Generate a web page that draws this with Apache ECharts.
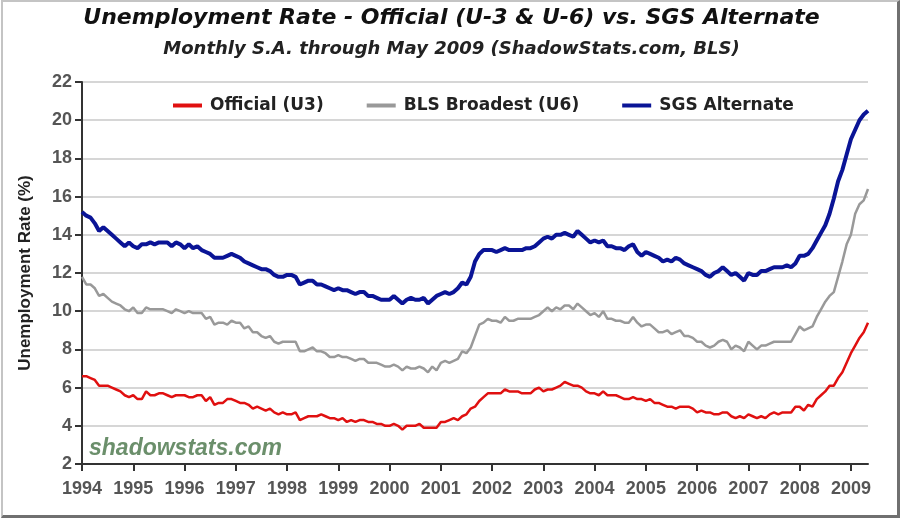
<!DOCTYPE html>
<html>
<head>
<meta charset="utf-8">
<script src="https://cdn.jsdelivr.net/npm/echarts@6/dist/echarts.min.js"></script>
<style>
  html, body { margin: 0; padding: 0; background: #ffffff; }
  #chart { position: absolute; left: 0; top: 0; width: 903px; height: 521px; }
  #frame {
    position: absolute; left: 1px; top: 0px; width: 894px; height: 513px;
    border-left: 2px solid #c4c4c4; border-top: 2px solid #c4c4c4;
    border-right: 3px solid #707070; border-bottom: 3px solid #707070;
    pointer-events: none;
  }
</style>
</head>
<body>
<div id="chart"></div>
<div id="frame"></div>
<script>
// Monthly, seasonally adjusted, Jan 1994 .. May 2009 (185 months)
const startYear = 1994;
const years = [1994, 1995, 1996, 1997, 1998, 1999, 2000, 2001, 2002, 2003, 2004, 2005, 2006, 2007, 2008, 2009];

const officialU3 = [
  6.6, 6.6, 6.5, 6.4, 6.1, 6.1, 6.1, 6.0, 5.9, 5.8, 5.6, 5.5,
  5.6, 5.4, 5.4, 5.8, 5.6, 5.6, 5.7, 5.7, 5.6, 5.5, 5.6, 5.6,
  5.6, 5.5, 5.5, 5.6, 5.6, 5.3, 5.5, 5.1, 5.2, 5.2, 5.4, 5.4,
  5.3, 5.2, 5.2, 5.1, 4.9, 5.0, 4.9, 4.8, 4.9, 4.7, 4.6, 4.7,
  4.6, 4.6, 4.7, 4.3, 4.4, 4.5, 4.5, 4.5, 4.6, 4.5, 4.4, 4.4,
  4.3, 4.4, 4.2, 4.3, 4.2, 4.3, 4.3, 4.2, 4.2, 4.1, 4.1, 4.0,
  4.0, 4.1, 4.0, 3.8, 4.0, 4.0, 4.0, 4.1, 3.9, 3.9, 3.9, 3.9,
  4.2, 4.2, 4.3, 4.4, 4.3, 4.5, 4.6, 4.9, 5.0, 5.3, 5.5, 5.7,
  5.7, 5.7, 5.7, 5.9, 5.8, 5.8, 5.8, 5.7, 5.7, 5.7, 5.9, 6.0,
  5.8, 5.9, 5.9, 6.0, 6.1, 6.3, 6.2, 6.1, 6.1, 6.0, 5.8, 5.7,
  5.7, 5.6, 5.8, 5.6, 5.6, 5.6, 5.5, 5.4, 5.4, 5.5, 5.4, 5.4,
  5.3, 5.4, 5.2, 5.2, 5.1, 5.0, 5.0, 4.9, 5.0, 5.0, 5.0, 4.9,
  4.7, 4.8, 4.7, 4.7, 4.6, 4.6, 4.7, 4.7, 4.5, 4.4, 4.5, 4.4,
  4.6, 4.5, 4.4, 4.5, 4.4, 4.6, 4.7, 4.6, 4.7, 4.7, 4.7, 5.0,
  5.0, 4.8, 5.1, 5.0, 5.4, 5.6, 5.8, 6.1, 6.1, 6.5, 6.8, 7.3,
  7.8, 8.2, 8.6, 8.9, 9.4,
];

const broadestU6 = [
  11.8, 11.4, 11.4, 11.2, 10.8, 10.9, 10.7, 10.5, 10.4, 10.3, 10.1, 10.0,
  10.2, 9.9, 9.9, 10.2, 10.1, 10.1, 10.1, 10.1, 10.0, 9.9, 10.1, 10.0,
  9.9, 10.0, 9.9, 9.9, 9.9, 9.6, 9.7, 9.3, 9.4, 9.4, 9.3, 9.5,
  9.4, 9.4, 9.1, 9.2, 8.9, 8.9, 8.7, 8.6, 8.7, 8.4, 8.3, 8.4,
  8.4, 8.4, 8.4, 7.9, 7.9, 8.0, 8.1, 7.9, 7.9, 7.8, 7.6, 7.6,
  7.7, 7.6, 7.6, 7.5, 7.4, 7.5, 7.5, 7.3, 7.3, 7.3, 7.2, 7.1,
  7.1, 7.2, 7.1, 6.9, 7.1, 7.0, 7.0, 7.1, 7.0, 6.8, 7.1, 6.9,
  7.3, 7.4, 7.3, 7.4, 7.5, 7.9, 7.8, 8.1, 8.7, 9.3, 9.4, 9.6,
  9.5, 9.5, 9.4, 9.7, 9.5, 9.5, 9.6, 9.6, 9.6, 9.6, 9.7, 9.8,
  10.0, 10.2, 10.0, 10.2, 10.1, 10.3, 10.3, 10.1, 10.4, 10.2, 10.0, 9.8,
  9.9, 9.7, 10.0, 9.6, 9.6, 9.5, 9.5, 9.4, 9.4, 9.7, 9.4, 9.2,
  9.3, 9.3, 9.1, 8.9, 8.9, 9.0, 8.8, 8.9, 9.0, 8.7, 8.7, 8.6,
  8.4, 8.4, 8.2, 8.1, 8.2, 8.4, 8.5, 8.4, 8.0, 8.2, 8.1, 7.9,
  8.4, 8.2, 8.0, 8.2, 8.2, 8.3, 8.4, 8.4, 8.4, 8.4, 8.4, 8.8,
  9.2, 9.0, 9.1, 9.2, 9.7, 10.1, 10.5, 10.8, 11.0, 11.8, 12.6, 13.5,
  14.0, 15.1, 15.6, 15.8, 16.4,
];

const sgsAlternate = [
  15.2, 15.0, 14.9, 14.6, 14.2, 14.4, 14.2, 14.0, 13.8, 13.6, 13.4, 13.6,
  13.4, 13.3, 13.5, 13.5, 13.6, 13.5, 13.6, 13.6, 13.6, 13.4, 13.6, 13.5,
  13.3, 13.5, 13.3, 13.4, 13.2, 13.1, 13.0, 12.8, 12.8, 12.8, 12.9, 13.0,
  12.9, 12.8, 12.6, 12.5, 12.4, 12.3, 12.2, 12.2, 12.1, 11.9, 11.8, 11.8,
  11.9, 11.9, 11.8, 11.4, 11.5, 11.6, 11.6, 11.4, 11.4, 11.3, 11.2, 11.1,
  11.2, 11.1, 11.1, 11.0, 10.9, 11.0, 11.0, 10.8, 10.8, 10.7, 10.6, 10.6,
  10.6, 10.8, 10.6, 10.4, 10.6, 10.7, 10.6, 10.6, 10.7, 10.4, 10.6, 10.8,
  10.9, 11.0, 10.9, 11.0, 11.2, 11.5, 11.4, 11.8, 12.6, 13.0, 13.2, 13.2,
  13.2, 13.1, 13.2, 13.3, 13.2, 13.2, 13.2, 13.2, 13.3, 13.3, 13.4, 13.6,
  13.8, 13.9, 13.8, 14.0, 14.0, 14.1, 14.0, 13.9, 14.2, 14.0, 13.8, 13.6,
  13.7, 13.6, 13.7, 13.4, 13.4, 13.3, 13.3, 13.2, 13.4, 13.5, 13.1, 12.9,
  13.1, 13.0, 12.9, 12.8, 12.6, 12.7, 12.6, 12.8, 12.7, 12.5, 12.4, 12.3,
  12.2, 12.1, 11.9, 11.8, 12.0, 12.1, 12.3, 12.1, 11.9, 12.0, 11.8, 11.6,
  12.0, 11.9, 11.9, 12.1, 12.1, 12.2, 12.3, 12.3, 12.3, 12.4, 12.3, 12.5,
  12.9, 12.9, 13.0, 13.3, 13.7, 14.1, 14.5, 15.1, 15.9, 16.8, 17.4, 18.2,
  19.0, 19.5, 20.0, 20.3, 20.5,
];

const seriesNames = ["Official (U3)", "BLS Broadest (U6)", "SGS Alternate"];

function toPoints(values) {
  return values.map((v, i) => [startYear + i / 12, v]);
}

const axisText = { fontFamily: "Liberation Sans", fontWeight: "bold", fontSize: 18, color: "#555555" };

const chart = echarts.init(document.getElementById("chart"), null, { renderer: "canvas" });
chart.setOption({
  animation: false,
  backgroundColor: "transparent",
  title: [
    {
      text: "Unemployment Rate - Official (U-3 & U-6) vs. SGS Alternate",
      left: "center",
      top: 7,
      padding: 0,
      textStyle: { fontFamily: "DejaVu Sans", fontStyle: "italic", fontWeight: "bold", fontSize: 22, color: "#111111" },
    },
    {
      text: "Monthly S.A. through May 2009 (ShadowStats.com, BLS)",
      left: "center",
      top: 40,
      padding: 0,
      textStyle: { fontFamily: "DejaVu Sans", fontStyle: "italic", fontWeight: "bold", fontSize: 18, color: "#222222" },
    },
  ],
  legend: {
    left: 173,
    top: 97,
    padding: 0,
    itemWidth: 29,
    itemHeight: 4,
    itemGap: 43,
    icon: "rect",
    data: seriesNames,
    textStyle: { fontFamily: "DejaVu Sans", fontWeight: "bold", fontSize: 17, color: "#222222", padding: [0, 0, 0, 3] },
  },
  grid: { left: 82, right: 35, top: 82, bottom: 57 },
  xAxis: {
    type: "value",
    min: startYear,
    max: startYear + 184 / 12,
    axisLine: { lineStyle: { color: "#333333", width: 2 } },
    axisTick: { customValues: years, length: 7, lineStyle: { color: "#333333", width: 2 } },
    axisLabel: { customValues: years, margin: 16, ...axisText, formatter: (v) => String(Math.round(v)) },
    splitLine: { show: false },
  },
  yAxis: {
    type: "value",
    min: 2,
    max: 22,
    interval: 2,
    name: "Unemployment Rate (%)",
    nameLocation: "middle",
    nameRotate: 90,
    nameGap: 48,
    nameTextStyle: { fontFamily: "Liberation Sans", fontWeight: "bold", fontSize: 17, color: "#222222" },
    axisLine: { show: true, lineStyle: { color: "#333333", width: 2 } },
    axisTick: { show: true, length: 7, lineStyle: { color: "#333333", width: 2 } },
    axisLabel: { margin: 10, ...axisText },
    splitLine: { lineStyle: { color: "#d6d6d6", width: 2 } },
  },
  graphic: [
    {
      type: "text",
      left: 89,
      top: 437,
      style: {
        text: "shadowstats.com",
        font: "italic bold 23px 'Liberation Sans'",
        fill: "#6b8f6b",
      },
    },
  ],
  series: [
    {
      name: seriesNames[0],
      type: "line",
      data: toPoints(officialU3),
      showSymbol: false,
      color: "#e01010",
      lineStyle: { width: 2.5 },
      z: 3,
    },
    {
      name: seriesNames[1],
      type: "line",
      data: toPoints(broadestU6),
      showSymbol: false,
      color: "#999999",
      lineStyle: { width: 2.5 },
      z: 3,
    },
    {
      name: seriesNames[2],
      type: "line",
      data: toPoints(sgsAlternate),
      showSymbol: false,
      color: "#0a1496",
      lineStyle: { width: 4 },
      z: 4,
    },
  ],
});
</script>
</body>
</html>
